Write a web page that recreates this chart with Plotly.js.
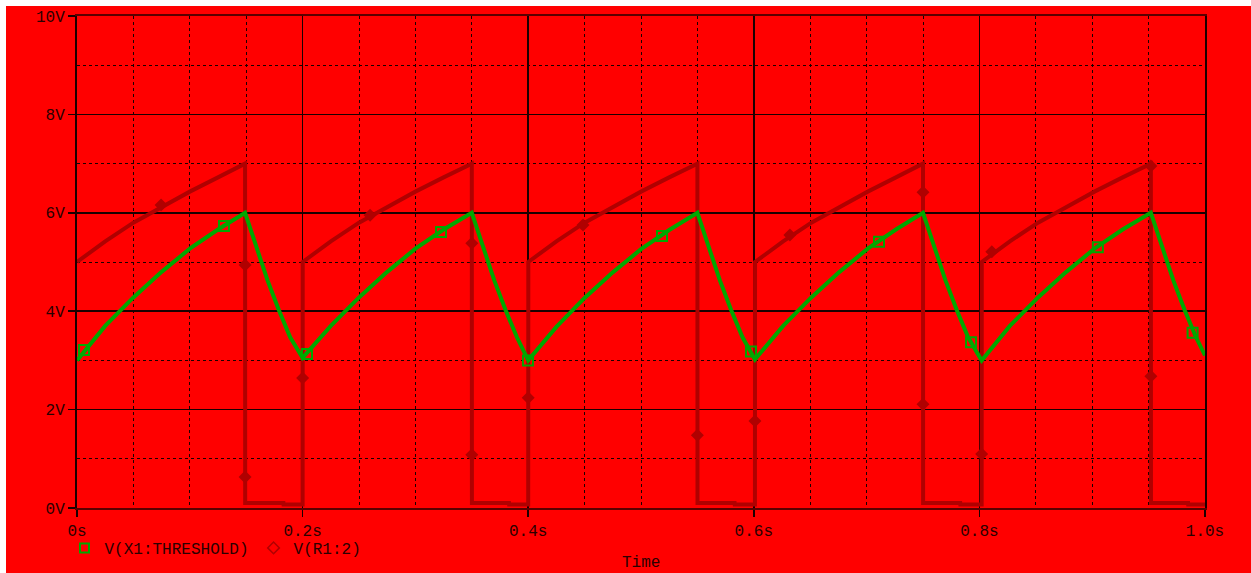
<!DOCTYPE html>
<html>
<head>
<meta charset="utf-8">
<script src="https://cdn.plot.ly/plotly-3.0.1.min.js"></script>
<style>
html, body { margin: 0; padding: 0; background: #ffffff; overflow: hidden; }
#chart { position: absolute; left: 6px; top: 6px; width: 1245px; height: 567px; }
</style>
</head>
<body>
<div id="chart"></div>
<script>
// V(R1:2) waveform (seconds, volts)
var redTime = [0, 0.025, 0.05, 0.075, 0.1, 0.125, 0.149, 0.1491, 0.183, 0.1831, 0.2,
  0.2001, 0.225, 0.25, 0.275, 0.3, 0.325, 0.35, 0.3501, 0.383, 0.3831, 0.4,
  0.4001, 0.425, 0.45, 0.475, 0.5, 0.525, 0.55, 0.5501, 0.583, 0.5831, 0.601,
  0.6011, 0.626, 0.651, 0.676, 0.701, 0.726, 0.75, 0.7501, 0.783, 0.7831, 0.802,
  0.8021, 0.827, 0.852, 0.877, 0.902, 0.927, 0.952, 0.9521, 0.985, 0.9851, 1.0];
var redVolts = [5.0, 5.42, 5.8, 6.12, 6.43, 6.72, 7.0, 0.1, 0.1, 0.07, 0.07,
  5.0, 5.42, 5.8, 6.12, 6.43, 6.72, 7.0, 0.1, 0.1, 0.07, 0.07,
  5.0, 5.42, 5.8, 6.12, 6.43, 6.72, 7.0, 0.1, 0.1, 0.07, 0.07,
  5.0, 5.42, 5.8, 6.12, 6.43, 6.72, 7.0, 0.1, 0.1, 0.07, 0.07,
  5.0, 5.42, 5.8, 6.12, 6.43, 6.72, 7.0, 0.1, 0.1, 0.07, 0.07];

// V(X1:THRESHOLD) waveform
var greenTime = [0, 0.025, 0.05, 0.075, 0.1, 0.125, 0.149, 0.159, 0.169, 0.179, 0.189, 0.2,
  0.225, 0.25, 0.275, 0.3, 0.325, 0.35, 0.36, 0.37, 0.38, 0.39, 0.4,
  0.425, 0.45, 0.475, 0.5, 0.525, 0.55, 0.56, 0.57, 0.58, 0.59, 0.601,
  0.626, 0.651, 0.676, 0.701, 0.726, 0.75, 0.76, 0.77, 0.78, 0.79, 0.802,
  0.827, 0.852, 0.877, 0.902, 0.927, 0.952, 0.962, 0.972, 0.982, 0.992, 1.0];
var greenVolts = [3.0, 3.7, 4.28, 4.8, 5.27, 5.66, 6.0, 5.3, 4.62, 4.02, 3.47, 3.05,
  3.7, 4.28, 4.8, 5.27, 5.66, 6.0, 5.3, 4.62, 4.02, 3.47, 3.0,
  3.68, 4.27, 4.79, 5.26, 5.65, 6.0, 5.3, 4.62, 4.02, 3.47, 3.02,
  3.7, 4.28, 4.8, 5.27, 5.66, 6.0, 5.3, 4.62, 4.02, 3.47, 3.0,
  3.7, 4.28, 4.8, 5.27, 5.66, 6.0, 5.3, 4.62, 4.02, 3.47, 3.1];

// marker positions along the traces
var redMarkTime = [0.0745, 0.149, 0.149, 0.2, 0.2598, 0.35, 0.35, 0.4, 0.4486, 0.55, 0.601, 0.632, 0.75, 0.75, 0.802, 0.811, 0.952, 0.952];
var redMarkVolts = [6.16, 4.94, 0.63, 2.64, 5.95, 5.38, 1.08, 2.24, 5.75, 1.48, 1.77, 5.55, 6.42, 2.11, 1.1, 5.21, 6.95, 2.68];
var greenMarkTime = [0.0062, 0.1303, 0.2039, 0.3227, 0.3998, 0.5186, 0.5975, 0.711, 0.7926, 0.905, 0.989];
var greenMarkVolts = [3.21, 5.73, 3.13, 5.61, 3.0, 5.53, 3.18, 5.41, 3.37, 5.3, 3.56];

var xTickVals = [0, 0.2, 0.4, 0.6, 0.8, 1.0];
var xTickText = ['0s', '0.2s', '0.4s', '0.6s', '0.8s', '1.0s'];
var yTickVals = [0, 2, 4, 6, 8, 10];
var yTickText = ['0V', '2V', '4V', '6V', '8V', '10V'];
var seriesNames = ['V(X1:THRESHOLD)', 'V(R1:2)'];

var RED = '#b00000';
var GREEN = '#00a800';
var TXT = '#2a0000';
var FONT = 'Liberation Mono, Courier New, monospace';

var traces = [
  { x: redTime, y: redVolts, mode: 'lines', line: { color: RED, width: 4 }, showlegend: false, hoverinfo: 'skip' },
  { x: greenTime, y: greenVolts, mode: 'lines', line: { color: GREEN, width: 4 }, showlegend: false, hoverinfo: 'skip' },
  { x: redMarkTime, y: redMarkVolts, mode: 'markers', marker: { symbol: 'diamond', size: 10, color: RED }, showlegend: false },
  { x: greenMarkTime, y: greenMarkVolts, mode: 'markers', marker: { symbol: 'square-open', size: 10, color: GREEN, line: { width: 2, color: GREEN } }, showlegend: false },
  { x: [null], y: [null], name: seriesNames[0], mode: 'markers', marker: { symbol: 'square-open', size: 9, color: GREEN, line: { width: 2, color: GREEN } } },
  { x: [null], y: [null], name: seriesNames[1], mode: 'markers', marker: { symbol: 'diamond-open', size: 9, color: RED, line: { width: 1.5, color: RED } } }
];

var layout = {
  width: 1245, height: 567,
  margin: { l: 71, r: 46, t: 10, b: 65, autoexpand: false },
  paper_bgcolor: '#ff0000',
  plot_bgcolor: '#ff0000',
  font: { family: FONT, size: 16, color: TXT },
  showlegend: true,
  legend: {
    orientation: 'h', xref: 'container', x: 0.047, xanchor: 'left',
    yref: 'container', y: 0.0441, yanchor: 'middle',
    bgcolor: 'rgba(0,0,0,0)', borderwidth: 0,
    font: { family: FONT, size: 16, color: TXT },
    itemclick: false
  },
  xaxis: {
    range: [0, 1], tickvals: xTickVals, ticktext: xTickText,
    showgrid: true, gridcolor: '#1a0000', gridwidth: 1.5,
    minor: { dtick: 0.05, tick0: 0, showgrid: true, gridcolor: '#1a0000', gridwidth: 1, griddash: 'dot', ticks: '' },
    ticks: 'outside', ticklen: 7, tickcolor: '#1a0000', tickwidth: 1.5,
    showline: true, linecolor: '#5a0000', linewidth: 2, mirror: true,
    zeroline: false, fixedrange: true,
    tickfont: { family: FONT, size: 16, color: TXT }
  },
  yaxis: {
    range: [0, 10], tickvals: yTickVals, ticktext: yTickText,
    showgrid: true, gridcolor: '#1a0000', gridwidth: 1.5,
    minor: { dtick: 1, tick0: 0, showgrid: true, gridcolor: '#1a0000', gridwidth: 1, griddash: 'dot', ticks: '' },
    ticks: 'outside', ticklen: 7, tickcolor: '#1a0000', tickwidth: 1.5,
    showline: true, linecolor: '#1a0000', linewidth: 2, mirror: true,
    zeroline: false, fixedrange: true,
    tickfont: { family: FONT, size: 16, color: TXT }
  },
  annotations: [{
    text: 'Time', xref: 'paper', yref: 'paper', x: 0.5, y: 0,
    xanchor: 'center', yanchor: 'middle', yshift: -55, showarrow: false,
    font: { family: FONT, size: 16, color: TXT }
  }]
};

Plotly.newPlot('chart', traces, layout, { displayModeBar: false, staticPlot: true });
</script>
</body>
</html>
